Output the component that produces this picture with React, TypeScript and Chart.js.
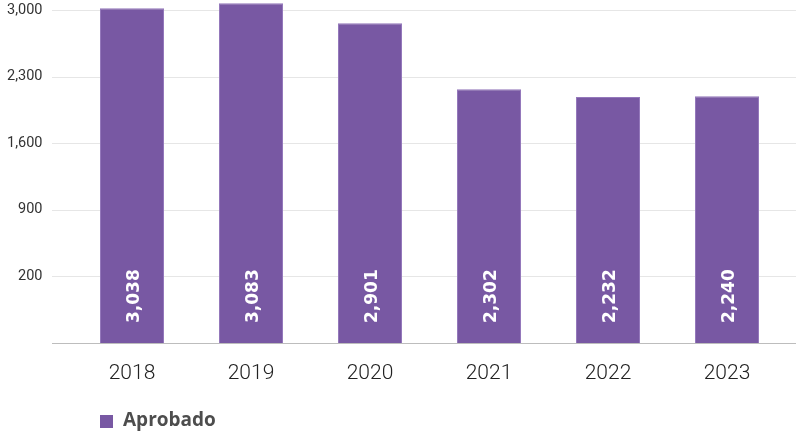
import React, { useEffect, useRef } from "react";
import { Chart, registerables } from "chart.js";

Chart.register(...registerables);

const years = ["2018", "2019", "2020", "2021", "2022", "2023"];
const aprobado = [3038, 3083, 2901, 2302, 2232, 2240];
const yTickValues = [200, 900, 1600, 2300, 3000];
const seriesName = "Aprobado";

const PURPLE = "#7858a3";

export default function App() {
  const ref = useRef<HTMLCanvasElement | null>(null);

  useEffect(() => {
    const canvas = ref.current;
    if (!canvas) return;

    const gridPlugin = {
      id: "customGrid",
      beforeDatasetsDraw(chart: any) {
        const { ctx, chartArea } = chart;
        const y = chart.scales.y;
        ctx.save();
        ctx.lineWidth = 1;
        ctx.strokeStyle = "#e6e6e6";
        yTickValues.forEach((v) => {
          const py = Math.round(y.getPixelForValue(v)) + 0.5;
          ctx.beginPath();
          ctx.moveTo(52, py);
          ctx.lineTo(chart.width, py);
          ctx.stroke();
        });
        ctx.strokeStyle = "#bdbdbd";
        const by = Math.round(chartArea.bottom) + 0.5;
        ctx.beginPath();
        ctx.moveTo(52, by);
        ctx.lineTo(chart.width, by);
        ctx.stroke();
        ctx.restore();
      },
    };

    const labelPlugin = {
      id: "barLabels",
      afterDatasetsDraw(chart: any) {
        const { ctx, chartArea } = chart;
        const meta = chart.getDatasetMeta(0);
        ctx.save();
        ctx.fillStyle = "#ffffff";
        ctx.font = "bold 17px 'DejaVu Sans'";
        ctx.textAlign = "left";
        ctx.textBaseline = "middle";
        meta.data.forEach((el: any, i: number) => {
          ctx.save();
          ctx.translate(el.x + 3, chartArea.bottom - 20);
          ctx.rotate(-Math.PI / 2);
          ctx.fillText(aprobado[i].toLocaleString("en-US"), 0, 0);
          ctx.restore();
        });
        ctx.restore();
      },
    };

    const legendPlugin = {
      id: "customLegend",
      afterDraw(chart: any) {
        const { ctx } = chart;
        ctx.save();
        ctx.fillStyle = PURPLE;
        ctx.fillRect(100, 415, 13, 13);
        ctx.fillStyle = "#4d4d4d";
        ctx.font = "bold 19px 'Open Sans'";
        ctx.textAlign = "left";
        ctx.textBaseline = "middle";
        ctx.fillText(seriesName, 123, 421);
        ctx.restore();
      },
    };

    const chart = new Chart(canvas, {
      type: "bar",
      data: {
        labels: years,
        datasets: [
          {
            label: seriesName,
            data: aprobado,
            yAxisID: "yb",
            backgroundColor: PURPLE,
            borderColor: "#9478bb",
            borderWidth: 1,
            barPercentage: 64 / 119,
            categoryPercentage: 1,
          },
        ],
      },
      options: {
        responsive: false,
        animation: false,
        layout: { padding: { left: 0, right: 9.5, top: 0, bottom: 0 } },
        plugins: {
          legend: { display: false },
          tooltip: { enabled: false },
        },
        scales: {
          x: {
            grid: { display: false },
            border: { display: false },
            ticks: {
              color: "#222222",
              font: { family: "Roboto", size: 21, weight: "300" },
              padding: 10,
            },
            afterFit(scale: any) {
              scale.height = 90;
            },
          },
          y: {
            position: "left",
            min: -500,
            max: 3105,
            grid: { display: false, drawTicks: false },
            border: { display: false },
            afterBuildTicks(scale: any) {
              scale.ticks = yTickValues.map((v) => ({ value: v }));
            },
            ticks: {
              color: "#333333",
              font: { family: "Roboto", size: 14.5 },
              padding: 30,
              callback: (v: any) => Number(v).toLocaleString("en-US"),
            },
            afterFit(scale: any) {
              scale.width = 72.5;
              scale.paddingTop = 0;
              scale.paddingBottom = 0;
            },
          },
          yb: {
            display: false,
            min: 0,
            max: 3113,
          },
        },
      },
      plugins: [gridPlugin, labelPlugin, legendPlugin],
    } as any);

    return () => chart.destroy();
  }, []);

  return (
    <div style={{ position: "absolute", left: 0, top: 0, width: 796, height: 433 }}>
      <canvas ref={ref} width={796} height={433} style={{ display: "block" }} />
    </div>
  );
}
